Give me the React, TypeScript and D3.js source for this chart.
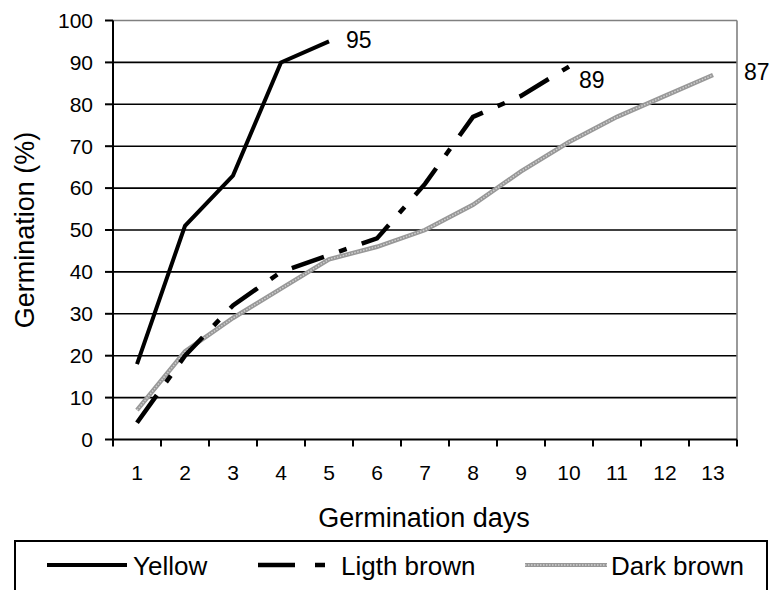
import React from "react";
import * as d3 from "d3";

const days = ["1", "2", "3", "4", "5", "6", "7", "8", "9", "10", "11", "12", "13"];
const yTicks = [0, 10, 20, 30, 40, 50, 60, 70, 80, 90, 100];
const yellow = [18, 51, 63, 90, 95];
const lightBrown = [4, 20, 32, 40, 44, 48, 61, 77, 82, 89];
const darkBrown = [7, 21, 29, 36, 43, 46, 50, 56, 64, 71, 77, 82, 87];
const seriesNames = ["Yellow", "Ligth brown", "Dark brown"];
const endLabels = ["95", "89", "87"];

const W = 770;
const H = 590;
const L = 113;
const R = 737;
const T = 20.5;
const B = 439.5;
const FONT = "'Liberation Sans', Arial, sans-serif";

export default function App() {
  const x = d3.scaleBand<string>().domain(days).range([L, R]).padding(0);
  const y = d3.scaleLinear().domain([0, 100]).range([B, T]);
  const cx = (i: number) => (x(days[i]) as number) + x.bandwidth() / 2;
  const line = d3
    .line<number>()
    .x((_, i) => cx(i))
    .y((v) => y(v));

  const boundaries = days.map((d) => x(d) as number).concat([R]);
  const darkPath = line(darkBrown) || "";

  return (
    <svg
      width={W}
      height={H}
      style={{ position: "absolute", left: 0, top: 0, background: "#fff" }}
      fontFamily={FONT}
    >
      <rect x={0} y={0} width={W} height={H} fill="#fff" />
      {yTicks.filter((t) => t > 0 && t < 100).map((t) => (
        <line key={t} x1={L} x2={R} y1={y(t)} y2={y(t)} stroke="#000" strokeWidth={1.6} />
      ))}
      <line x1={L} x2={R} y1={y(100)} y2={y(100)} stroke="#808080" strokeWidth={1.6} />
      <line x1={R} x2={R} y1={y(100)} y2={B} stroke="#808080" strokeWidth={1.6} />
      <line x1={L} x2={L} y1={y(100)} y2={B} stroke="#000" strokeWidth={2} />
      <line x1={L} x2={R} y1={B} y2={B} stroke="#000" strokeWidth={2} />
      {yTicks.map((t) => (
        <g key={t}>
          <line x1={L - 8} x2={L} y1={y(t)} y2={y(t)} stroke="#000" strokeWidth={2} />
          <text x={L - 20} y={y(t)} dy="0.35em" textAnchor="end" fontSize={21}>
            {t}
          </text>
        </g>
      ))}
      {boundaries.map((bx, i) => (
        <line key={i} x1={bx} x2={bx} y1={B} y2={B + 7} stroke="#000" strokeWidth={2} />
      ))}
      {days.map((d, i) => (
        <text key={d} x={cx(i)} y={472.5} dy="0.35em" textAnchor="middle" fontSize={21}>
          {d}
        </text>
      ))}
      <text x={(L + R) / 2 - 1} y={517.5} dy="0.35em" textAnchor="middle" fontSize={27}>
        Germination days
      </text>
      <text
        transform={`translate(24.5,${(T + B) / 2}) rotate(-90)`}
        dy="0.35em"
        textAnchor="middle"
        fontSize={27}
      >
        Germination (%)
      </text>
      {/* Dark brown: textured gray */}
      <path d={darkPath} fill="none" stroke="#989898" strokeWidth={4.5} />
      <path d={darkPath} fill="none" stroke="#cfcfcf" strokeWidth={1.5} strokeDasharray="1.5 1.5" />
      {/* Light brown */}
      <path d={line(lightBrown) || ""} fill="none" stroke="#000" strokeWidth={4.5} strokeDasharray="34 16 8 16" />
      {/* Yellow */}
      <path d={line(yellow) || ""} fill="none" stroke="#000" strokeWidth={4} />
      <text x={cx(yellow.length - 1) + 17} y={40} dy="0.35em" fontSize={23}>
        {endLabels[0]}
      </text>
      <text x={cx(lightBrown.length - 1) + 10} y={80} dy="0.35em" fontSize={23}>
        {endLabels[1]}
      </text>
      <text x={cx(darkBrown.length - 1) + 31} y={72} dy="0.35em" fontSize={23}>
        {endLabels[2]}
      </text>
      <rect x={15} y={541} width={752} height={70} fill="#fff" stroke="#000" strokeWidth={2} />
      <line x1={47} x2={127} y1={565} y2={565} stroke="#000" strokeWidth={4} />
      <text x={133} y={566} dy="0.35em" fontSize={26}>{seriesNames[0]}</text>
      <line x1={258} x2={325} y1={565} y2={565} stroke="#000" strokeWidth={4.5} strokeDasharray="37 20 10 100" />
      <text x={341} y={566} dy="0.35em" fontSize={26}>{seriesNames[1]}</text>
      <line x1={525} x2={607} y1={565} y2={565} stroke="#989898" strokeWidth={4} />
      <line x1={525} x2={607} y1={565} y2={565} stroke="#cfcfcf" strokeWidth={1.3} strokeDasharray="1.5 1.5" />
      <text x={611} y={566} dy="0.35em" fontSize={26}>{seriesNames[2]}</text>
    </svg>
  );
}
